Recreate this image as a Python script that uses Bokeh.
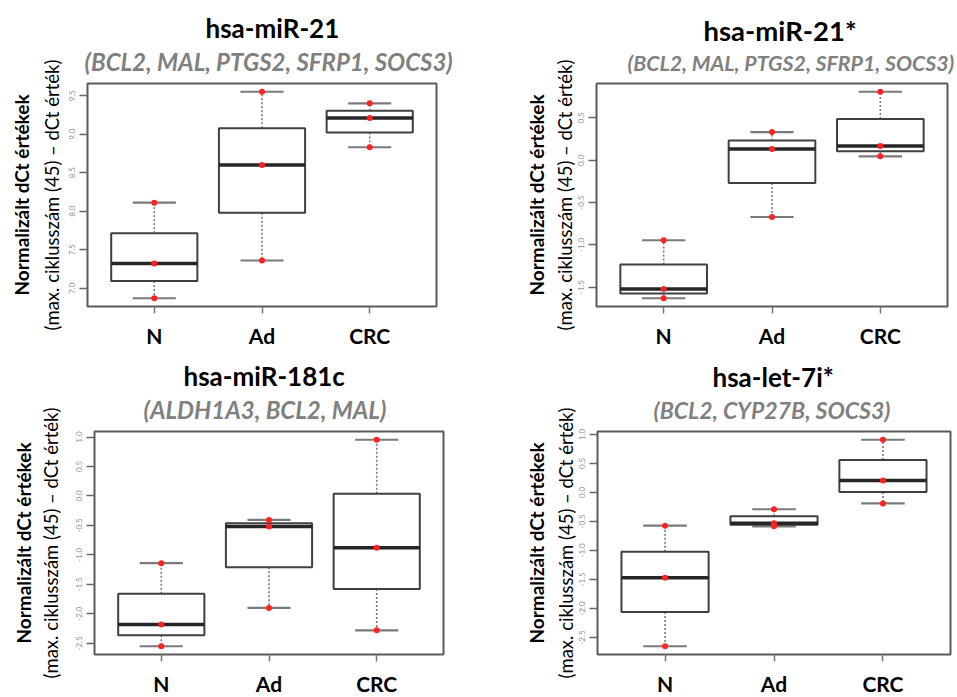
import numpy as np
from bokeh.plotting import figure
from bokeh.models import FixedTicker, PrintfTickFormatter, Range1d, LinearAxis, Title
from bokeh.layouts import column, row
from bokeh.embed import file_html
from bokeh.resources import INLINE

# ---------------- data ----------------
categories = ["N", "Ad", "CRC"]

mir21_N = [6.87, 7.32, 8.11]
mir21_Ad = [7.36, 8.60, 9.55]
mir21_CRC = [8.83, 9.21, 9.40]
mir21_ticks = [7.0, 7.5, 8.0, 8.5, 9.0, 9.5]

mir21s_N = [-1.63, -1.52, -0.945]
mir21s_Ad = [-0.67, 0.133, 0.333]
mir21s_CRC = [0.047, 0.168, 0.81]
mir21s_ticks = [-1.5, -1.0, -0.5, 0.0, 0.5]

mir181c_N = [-2.55, -2.18, -1.14]
mir181c_Ad = [-1.90, -0.52, -0.406]
mir181c_CRC = [-2.28, -0.88, 0.954]
mir181c_ticks = [-2.5, -2.0, -1.5, -1.0, -0.5, 0.0, 0.5, 1.0]

let7i_N = [-2.65, -1.47, -0.573]
let7i_Ad = [-0.585, -0.53, -0.29]
let7i_CRC = [-0.19, 0.207, 0.907]
let7i_ticks = [-2.5, -2.0, -1.5, -1.0, -0.5, 0.0, 0.5, 1.0]

titles = ["hsa-miR-21", "hsa-miR-21*", "hsa-miR-181c", "hsa-let-7i*"]
subtitles = ["(BCL2, MAL,  PTGS2,  SFRP1, SOCS3)",
             "(BCL2, MAL, PTGS2, SFRP1, SOCS3)",
             "(ALDH1A3, BCL2, MAL)",
             "(BCL2, CYP27B, SOCS3)"]
ylabel_bold = "Normalizált dCt értékek"
ylabel_normal = "(max. ciklusszám (45) – dCt érték)"

FONT = "Lato"


def fivenum(v):
    x = np.sort(np.asarray(v, dtype=float))
    n = len(x)
    n4 = np.floor((n + 3) / 2) / 2
    d = np.array([1, n4, (n + 1) / 2, n + 1 - n4, n]) - 1
    return 0.5 * (x[np.floor(d).astype(int)] + x[np.ceil(d).astype(int)])


def make_panel(title, subtitle, groups, yticks, lay):
    allv = np.concatenate([np.asarray(g, float) for g in groups])
    lo, hi = allv.min(), allv.max()
    ext = 0.04 * (hi - lo)
    p = figure(frame_width=lay["fw"], frame_height=lay["fh"],
               min_border_left=lay["bl"], min_border_right=lay["br"],
               min_border_top=lay["bt"], min_border_bottom=lay["bb"],
               x_range=Range1d(0.38, 3.62), y_range=Range1d(lo - ext, hi + ext),
               output_backend="svg", toolbar_location=None)
    p.xgrid.visible = False
    p.ygrid.visible = False
    p.background_fill_color = "white"
    p.border_fill_color = "white"
    p.outline_line_color = "#5a5a5a"
    p.outline_line_width = 2

    x = np.arange(1, len(categories) + 1, dtype=float)
    st = np.array([fivenum(g) for g in groups])
    mn, q1, med, q3, mx = st.T

    wcol = "#7a7a7a"
    p.segment(x0=x, x1=x, y0=q3, y1=mx, line_color=wcol, line_width=1.6, line_dash="2 2")
    p.segment(x0=x, x1=x, y0=q1, y1=mn, line_color=wcol, line_width=1.6, line_dash="2 2")
    p.segment(x0=x - 0.2, x1=x + 0.2, y0=mx, y1=mx, line_color=wcol, line_width=2.2)
    p.segment(x0=x - 0.2, x1=x + 0.2, y0=mn, y1=mn, line_color=wcol, line_width=2.2)
    p.vbar(x=x, width=0.8, bottom=q1, top=q3, fill_color="white",
           line_color="#404040", line_width=2)
    p.segment(x0=x - 0.4, x1=x + 0.4, y0=med, y1=med, line_color="#262626", line_width=3.5)
    px = np.concatenate([[xi] * len(g) for xi, g in zip(x, groups)])
    p.scatter(x=px, y=allv, size=6, color="#ff2222", line_color=None)

    # x axis
    p.xaxis.ticker = FixedTicker(ticks=list(x))
    p.xaxis.major_label_overrides = {float(xi): c for xi, c in zip(x, categories)}
    p.xaxis.axis_line_color = None
    p.xaxis.major_tick_in = 0
    p.xaxis.major_tick_out = 7
    p.xaxis.major_tick_line_color = "#777777"
    p.xaxis.major_tick_line_width = 1.5
    p.xaxis.minor_tick_line_color = None
    p.xaxis.major_label_standoff = 9
    p.xaxis.major_label_text_font = FONT
    p.xaxis.major_label_text_font_style = "bold"
    p.xaxis.major_label_text_font_size = "21px"
    p.xaxis.major_label_text_color = "black"

    # y axis (ticks + normal-weight label)
    ya = p.yaxis[0]
    ya.ticker = FixedTicker(ticks=yticks)
    ya.formatter = PrintfTickFormatter(format="%.1f")
    ya.axis_line_color = None
    ya.major_tick_in = 0
    ya.major_tick_out = 8
    ya.major_tick_line_color = "#666666"
    ya.major_tick_line_width = 1.5
    ya.minor_tick_line_color = None
    ya.major_label_orientation = "vertical"
    ya.major_label_standoff = 4
    ya.major_label_text_font = FONT
    ya.major_label_text_font_size = "8px"
    ya.major_label_text_color = "#8d949e"
    ya.axis_label = ylabel_normal
    ya.axis_label_text_font = FONT
    ya.axis_label_text_font_style = "normal"
    ya.axis_label_text_font_size = "18.5px"
    ya.axis_label_text_color = "black"
    ya.axis_label_standoff = lay["s2"]

    # outer axis carrying only the bold label
    ya2 = LinearAxis(ticker=FixedTicker(ticks=[]), axis_line_color=None,
                     major_tick_line_color=None, minor_tick_line_color=None,
                     major_label_text_font_size="0px",
                     axis_label=ylabel_bold, axis_label_text_font=FONT,
                     axis_label_text_font_style="bold", axis_label_text_font_size="19px",
                     axis_label_text_color="black", axis_label_standoff=lay["s1"])
    p.add_layout(ya2, "left")

    # titles (subtitle nearest the frame)
    p.add_layout(Title(text=subtitle, text_font=FONT, text_font_style="bold italic",
                       text_font_size=lay["sfs"], text_color="#808080", align="left",
                       standoff=16, offset=lay["so"]), "above")
    p.add_layout(Title(text=title, text_font=FONT, text_font_style="bold",
                       text_font_size=lay["tfs"], text_color="black", align="left",
                       standoff=-14, offset=lay["to"]), "above")
    return p


lay1 = dict(fw=349, fh=223, bl=87, br=42, bt=83, bb=46, s2=4, s1=5,
            to=118, so=-3, tfs="26px", sfs="24px")
lay2 = dict(fw=351, fh=223, bl=118, br=10, bt=83, bb=46, s2=0, s1=3,
            to=107, so=31, tfs="27.5px", sfs="21.3px")
lay3 = dict(fw=349, fh=223, bl=94, br=35, bt=79, bb=43, s2=12, s1=2,
            to=89, so=49, tfs="26px", sfs="24px")
lay4 = dict(fw=353, fh=223, bl=119, br=7, bt=75, bb=47, s2=0, s1=4,
            to=115, so=56, tfs="26px", sfs="23px")

p1 = make_panel(titles[0], subtitles[0], [mir21_N, mir21_Ad, mir21_CRC], mir21_ticks, lay1)
p2 = make_panel(titles[1], subtitles[1], [mir21s_N, mir21s_Ad, mir21s_CRC], mir21s_ticks, lay2)
p3 = make_panel(titles[2], subtitles[2], [mir181c_N, mir181c_Ad, mir181c_CRC], mir181c_ticks, lay3)
p4 = make_panel(titles[3], subtitles[3], [let7i_N, let7i_Ad, let7i_CRC], let7i_ticks, lay4)

layout = column(row(p1, p2), row(p3, p4))
open("out.html", "w").write(file_html(layout, INLINE))
